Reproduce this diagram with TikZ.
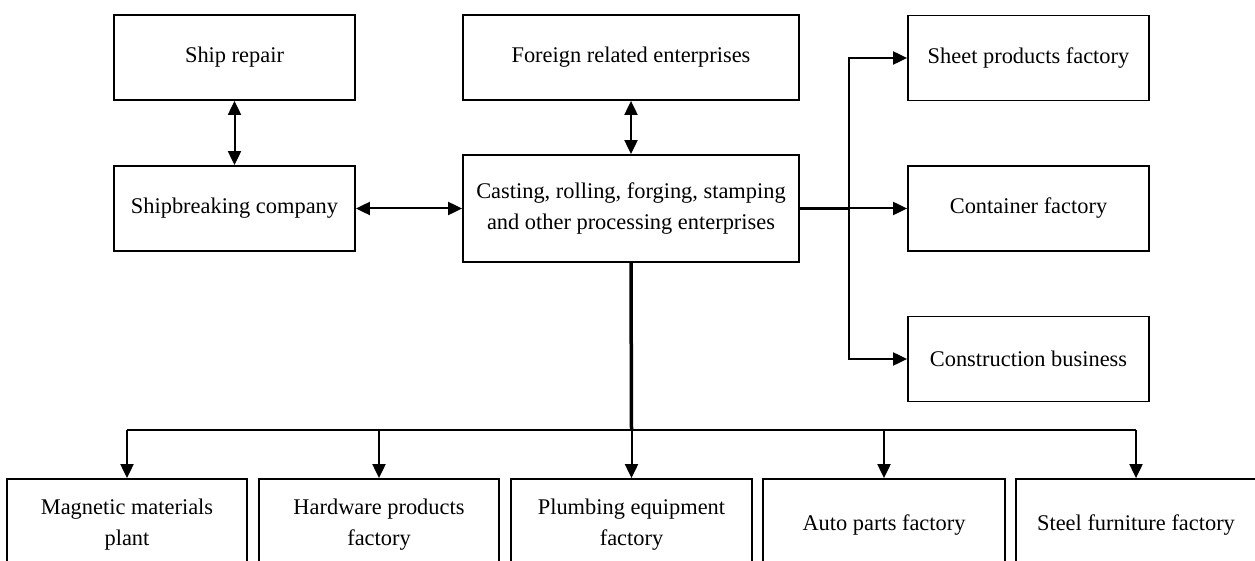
\documentclass[tikz,border=0pt]{standalone}
\usepackage{fontspec}
\setmainfont{Liberation Serif}
\usetikzlibrary{arrows.meta}
\tikzset{
  box/.style={draw, line width=1.8pt, inner sep=0pt, align=center,
    minimum width=241pt, minimum height=85pt,
    font=\fontsize{22.4}{31}\selectfont},
  wide/.style={box, minimum width=336pt, minimum height=107pt},
  lowbox/.style={box, minimum height=92pt},
  conn/.style={line width=2pt},
  thick conn/.style={line width=3.5pt},
  tip/.style={-{Triangle[length=14pt,width=13pt]}},
  dtip/.style={{Triangle[length=14pt,width=13pt]}-{Triangle[length=14pt,width=13pt]}},
}
\begin{document}
\begin{tikzpicture}[x=1pt,y=-1pt]
\clip (0,0) rectangle (1255,561);
\fill[white] (0,0) rectangle (1255,561);
% top row
\node[box] (ship) at (234.5,57.5) {Ship repair};
\node[box] (shipb) at (234.5,208.5) {Shipbreaking company};
\node[box, minimum width=336pt] (foreign) at (631,57.5) {Foreign related enterprises};
\node[wide] (main) at (631,208.5) {Casting, rolling, forging, stamping\\and other processing enterprises};
\node[box] (sheet) at (1028.5,58) {Sheet products factory};
\node[box] (cont) at (1028.5,208.5) {Container factory};
\node[box] (constr) at (1028.5,359) {Construction business};
% bottom row
\node[lowbox, minimum width=240pt] (p1) at (127,525) {Magnetic materials\\plant};
\node[lowbox, minimum width=240pt] (p2) at (379,525) {Hardware products\\factory};
\node[lowbox, minimum width=241pt] (p3) at (631.5,525) {Plumbing equipment\\factory};
\node[lowbox, minimum width=242pt] (p4) at (884,525) {Auto parts factory};
\node[lowbox, minimum width=240pt] (p5) at (1136,525) {Steel furniture factory};
% connectors top
\draw[conn, dtip] (ship.south) -- (shipb.north);
\draw[conn, dtip] (shipb.east) -- (main.west);
\draw[conn, dtip] (foreign.south) -- (main.north);
% right branch
\coordinate (jr) at (849,208.5);
\draw[thick conn] (main.east) -- (jr);
\draw[conn, tip] (jr) -- (cont.west);
\draw[conn, tip] (jr) |- (sheet.west);
\draw[conn, tip] (jr) |- (constr.west);
% bottom bus
\coordinate (bus) at (631.5,430);
\coordinate (b1) at (p1.north |- bus);
\coordinate (b5) at (p5.north |- bus);
\draw[thick conn] (main.south) -- (bus);
\draw[conn] (b1) -- (b5);
\draw[conn, tip] (b1) -- (p1.north);
\draw[conn, tip] (p2.north |- bus) -- (p2.north);
\draw[conn, tip] (bus) -- (p3.north);
\draw[conn, tip] (p4.north |- bus) -- (p4.north);
\draw[conn, tip] (b5) -- (p5.north);
\end{tikzpicture}
\end{document}
